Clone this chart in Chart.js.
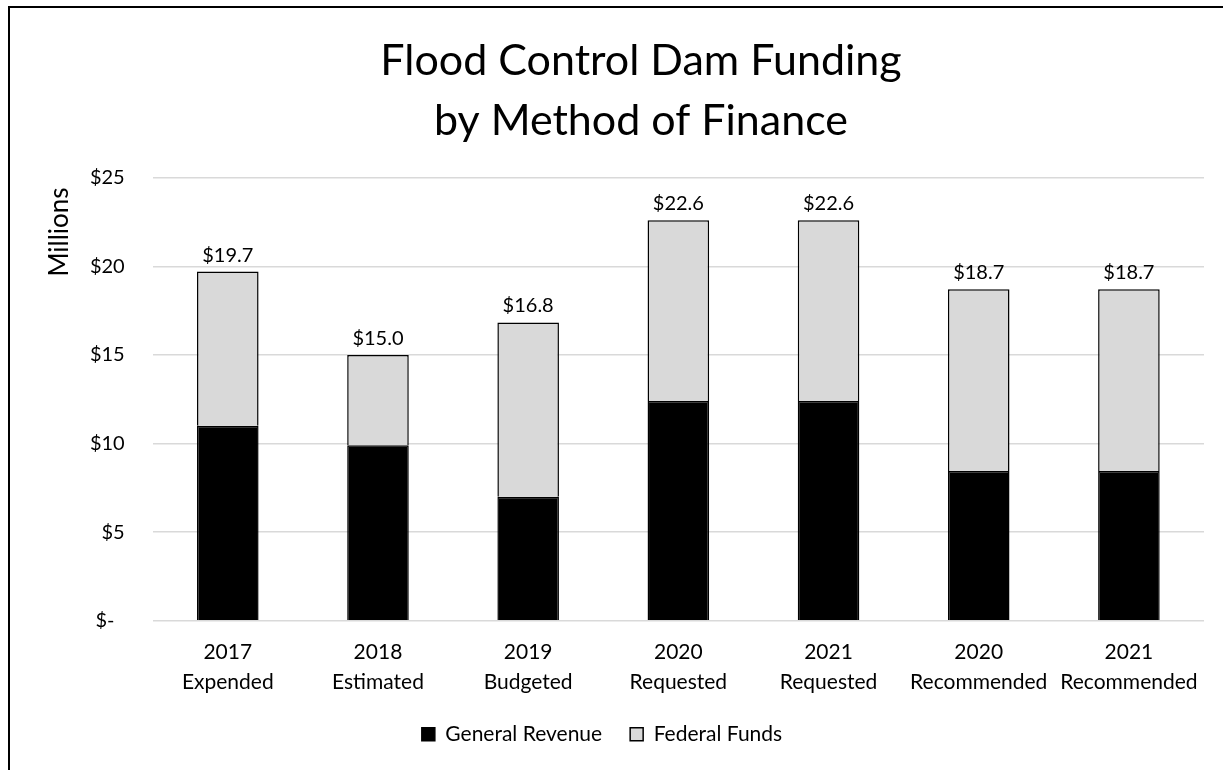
<!DOCTYPE html>
<html>
<head>
<meta charset="utf-8">
<title>Flood Control Dam Funding</title>
<script src="https://cdn.jsdelivr.net/npm/chart.js@4"></script>
<style>
  html, body { margin: 0; padding: 0; background: #fff; overflow: hidden; }
  #frame {
    position: absolute; left: 8px; top: 6px; width: 1400px; height: 1000px;
    border-left: 2px solid #000; border-top: 2px solid #000;
  }
  #chart { position: absolute; left: 0; top: 0; }
</style>
</head>
<body>
<div id="frame"></div>
<canvas id="chart" width="1223" height="770"></canvas>
<script>
// data (millions of dollars)
const categories = [
  ['2017', 'Expended'],
  ['2018', 'Estimated'],
  ['2019', 'Budgeted'],
  ['2020', 'Requested'],
  ['2021', 'Requested'],
  ['2020', 'Recommended'],
  ['2021', 'Recommended']
];
const generalRevenue = [11.0, 9.9, 7.0, 12.4, 12.4, 8.45, 8.45];
const federalFunds = [8.7, 5.1, 9.83, 10.2, 10.2, 10.25, 10.25];
const yTicks = [0, 5, 10, 15, 20, 25];
const titleLines = ['Flood Control Dam Funding', 'by Method of Finance'];

const FONT = 'Lato, "Open Sans", sans-serif';
Chart.defaults.font.family = FONT;
Chart.defaults.color = '#000';

// the title is centred on the whole frame, not on the plot, so draw it here
const frameTitle = {
  id: 'frameTitle',
  afterDraw(chart) {
    const ctx = chart.ctx;
    ctx.save();
    ctx.font = '43px ' + FONT;
    ctx.fillStyle = '#000';
    ctx.textAlign = 'center';
    ctx.textBaseline = 'alphabetic';
    ctx.fillText(titleLines[0], 641, 75);
    ctx.fillText(titleLines[1], 641, 135);
    ctx.restore();
  }
};

// y axis title sits up near the top, like Excel put it
const axisTitle = {
  id: 'axisTitle',
  afterDraw(chart) {
    const ctx = chart.ctx;
    ctx.save();
    ctx.translate(60, 232);
    ctx.rotate(-Math.PI / 2);
    ctx.font = '26px ' + FONT;
    ctx.fillStyle = '#000';
    ctx.textAlign = 'center';
    ctx.textBaseline = 'middle';
    ctx.fillText('Millions', 0, 0);
    ctx.restore();
  }
};

// totals above each stacked bar
const totalLabels = {
  id: 'totalLabels',
  afterDatasetsDraw(chart) {
    const ctx = chart.ctx;
    const meta = chart.getDatasetMeta(1);
    ctx.save();
    ctx.font = '20px ' + FONT;
    ctx.fillStyle = '#000';
    ctx.textAlign = 'center';
    ctx.textBaseline = 'alphabetic';
    meta.data.forEach((bar, i) => {
      const total = generalRevenue[i] + federalFunds[i];
      ctx.fillText('$' + total.toFixed(1), bar.x, bar.y - 10);
    });
    ctx.restore();
  }
};

new Chart(document.getElementById('chart'), {
  type: 'bar',
  data: {
    labels: categories,
    datasets: [
      {
        label: 'General Revenue',
        data: generalRevenue,
        backgroundColor: '#000000',
        borderColor: '#000000',
        borderWidth: 1.5
      },
      {
        label: 'Federal Funds',
        data: federalFunds,
        backgroundColor: '#d9d9d9',
        borderColor: '#000000',
        borderWidth: 1.5
      }
    ]
  },
  options: {
    responsive: false,
    animation: false,
    devicePixelRatio: 1,
    barPercentage: 0.41,
    categoryPercentage: 1.0,
    layout: { padding: { left: 0, right: 19, top: 177.7, bottom: 15.3 } },
    plugins: {
      title: { display: false },
      legend: {
        position: 'bottom',
        labels: {
          boxWidth: 13,
          boxHeight: 13,
          padding: 28,
          color: '#000',
          font: { size: 21 }
        }
      },
      tooltip: { enabled: false }
    },
    scales: {
      x: {
        stacked: true,
        grid: { display: false, drawTicks: false },
        border: { display: false },
        ticks: {
          padding: 16.8,
          maxRotation: 0,
          autoSkip: false,
          color: '#000',
          font: { size: 21, lineHeight: 30 / 21 }
        },
        afterFit: (s) => { s.height = 75; }
      },
      y: {
        stacked: true,
        min: 0,
        max: 25,
        afterBuildTicks: (s) => { s.ticks = yTicks.map(v => ({ value: v })); },
        grid: { color: '#d9d9d9', lineWidth: 1.5, drawTicks: false },
        border: { display: false },
        ticks: {
          padding: 28,
          color: '#000',
          font: { size: 20 },
          callback: (v) => v === 0 ? '$-  ' : '$' + v
        },
        afterFit: (s) => { s.width = 152.7; }
      }
    }
  },
  plugins: [frameTitle, axisTitle, totalLabels]
});
</script>
</body>
</html>
